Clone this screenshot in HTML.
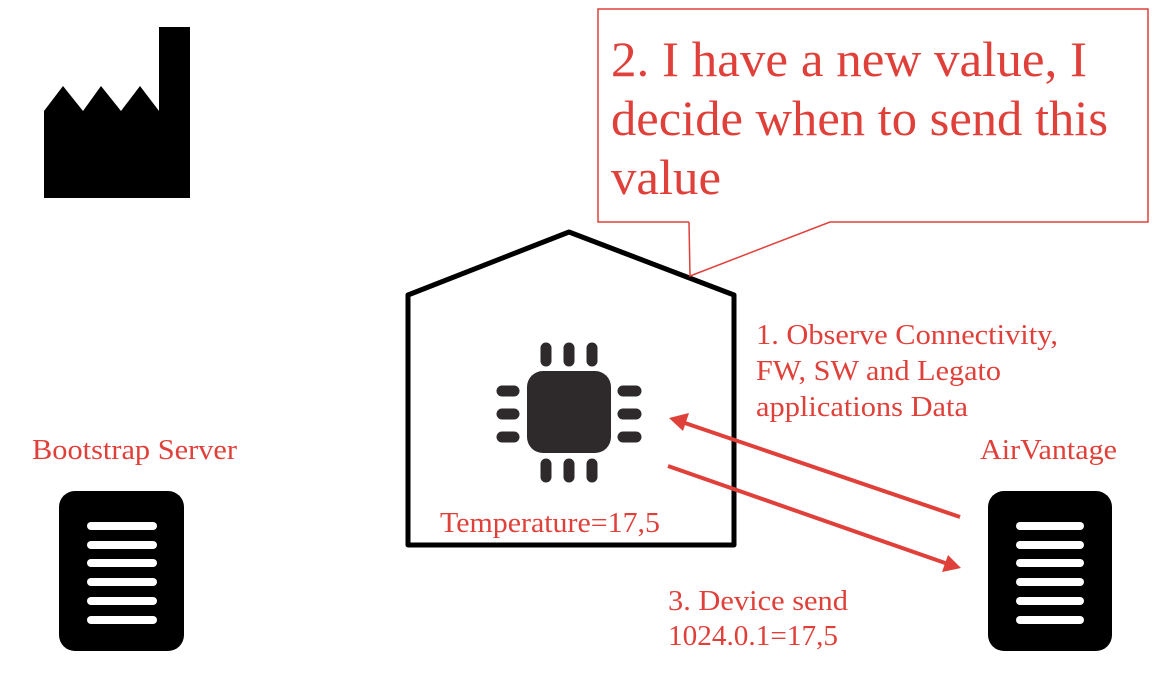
<!DOCTYPE html>
<html><head><meta charset="utf-8"><style>
html,body{margin:0;padding:0;background:#fff;}
svg{display:block;}
text{font-family:"Liberation Serif",serif;fill:#e0403a;}
</style></head><body>
<svg width="1176" height="678" viewBox="0 0 1176 678" xmlns="http://www.w3.org/2000/svg">
<!-- factory -->
<path d="M44,111 L63,86 L83,111 L101,86 L121,111 L140,86 L159,111 L159,27 L190,27 L190,198 L44,198 Z" fill="#000"/>
<!-- left server -->
<rect x="59" y="491" width="125" height="160" rx="16" fill="#000"/>
<g stroke="#fff" stroke-width="8" stroke-linecap="round">
<line x1="91" y1="526" x2="153" y2="526"/><line x1="91" y1="545" x2="153" y2="545"/>
<line x1="91" y1="563" x2="153" y2="563"/><line x1="91" y1="582" x2="153" y2="582"/>
<line x1="91" y1="601" x2="153" y2="601"/><line x1="91" y1="620" x2="153" y2="620"/>
</g>
<!-- right server -->
<rect x="988" y="491" width="124" height="160" rx="16" fill="#000"/>
<g stroke="#fff" stroke-width="8" stroke-linecap="round">
<line x1="1020" y1="526" x2="1080" y2="526"/><line x1="1020" y1="545" x2="1080" y2="545"/>
<line x1="1020" y1="563" x2="1080" y2="563"/><line x1="1020" y1="582" x2="1080" y2="582"/>
<line x1="1020" y1="601" x2="1080" y2="601"/><line x1="1020" y1="620" x2="1080" y2="620"/>
</g>
<!-- house -->
<path d="M408,295 L569,232 L734,295 L734,545 L408,545 Z" fill="none" stroke="#000" stroke-width="5" stroke-linejoin="round"/>
<!-- chip -->
<rect x="527" y="371" width="84" height="82" rx="16" fill="#2e2a2b"/>
<g stroke="#2e2a2b" stroke-width="11" stroke-linecap="round">
<line x1="546" y1="348" x2="546" y2="361"/><line x1="569" y1="348" x2="569" y2="361"/><line x1="592" y1="348" x2="592" y2="361"/>
<line x1="546" y1="464" x2="546" y2="477"/><line x1="569" y1="464" x2="569" y2="477"/><line x1="592" y1="464" x2="592" y2="477"/>
<line x1="502" y1="391" x2="514" y2="391"/><line x1="502" y1="414" x2="514" y2="414"/><line x1="502" y1="437" x2="514" y2="437"/>
<line x1="623" y1="391" x2="636" y2="391"/><line x1="623" y1="414" x2="636" y2="414"/><line x1="623" y1="437" x2="636" y2="437"/>
</g>
<!-- callout -->
<path d="M689,222 L598,222 L598,9 L1148,9 L1148,222 L830,222 L690,276 L689,222" fill="none" stroke="#e0403a" stroke-width="1.5"/>
<text x="611" y="76" font-size="50" textLength="476" lengthAdjust="spacingAndGlyphs">2. I have a new value, I</text>
<text x="611" y="135" font-size="50" textLength="497" lengthAdjust="spacingAndGlyphs">decide when to send this</text>
<text x="611" y="194" font-size="50" textLength="110" lengthAdjust="spacingAndGlyphs">value</text>
<!-- arrows -->
<line x1="960" y1="517" x2="682" y2="422" stroke="#e0403a" stroke-width="4"/>
<path d="M669,418 L689,413 L683,431 Z" fill="#e0403a"/>
<line x1="668" y1="466" x2="948" y2="564" stroke="#e0403a" stroke-width="4"/>
<path d="M961,568 L942,572 L948,555 Z" fill="#e0403a"/>
<!-- labels -->
<text x="32" y="459" font-size="29" textLength="205" lengthAdjust="spacingAndGlyphs">Bootstrap Server</text>
<text x="980" y="459" font-size="29" textLength="137" lengthAdjust="spacingAndGlyphs">AirVantage</text>
<text x="440" y="532" font-size="29" textLength="220" lengthAdjust="spacingAndGlyphs">Temperature=17,5</text>
<text x="756" y="344" font-size="29" textLength="302" lengthAdjust="spacingAndGlyphs">1. Observe Connectivity,</text>
<text x="756" y="380" font-size="29" textLength="245" lengthAdjust="spacingAndGlyphs">FW, SW and Legato</text>
<text x="756" y="416" font-size="29" textLength="212" lengthAdjust="spacingAndGlyphs">applications Data</text>
<text x="668" y="610" font-size="29" textLength="180" lengthAdjust="spacingAndGlyphs">3. Device send</text>
<text x="668" y="645" font-size="29" textLength="170" lengthAdjust="spacingAndGlyphs">1024.0.1=17,5</text>
</svg>
</body></html>
